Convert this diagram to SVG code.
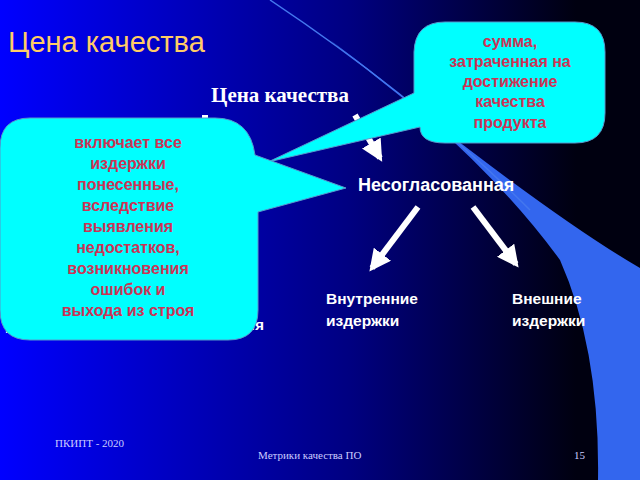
<svg xmlns="http://www.w3.org/2000/svg" width="640" height="480" viewBox="0 0 640 480">
<defs>
<linearGradient id="bg" x1="0" y1="0" x2="1" y2="0"><stop offset="0" stop-color="#0000ff"/><stop offset="0.55" stop-color="#000080"/><stop offset="0.9" stop-color="#000010"/></linearGradient>
<marker id="ah" viewBox="0 0 10 10" refX="8" refY="5" markerWidth="3.6" markerHeight="3.6" orient="auto"><path d="M0,0 L10,5 L0,10 Z" fill="#fff"/></marker>
<style>
.w{fill:#fff;font-family:"Liberation Sans",Arial,sans-serif;font-weight:bold}
.r{fill:#cc3355;font-family:"Liberation Sans",Arial,sans-serif;font-weight:bold;font-size:16px;text-anchor:middle}
.c{fill:#00ffff;stroke:#5599cc;stroke-width:1}
.ar{stroke:#fff;stroke-width:6;fill:none;marker-end:url(#ah)}
.f{fill:#ccccff;font-family:"Liberation Serif",serif;font-size:11px}
</style>
</defs>
<rect width="640" height="480" fill="url(#bg)"/>
<path d="M330 40 Q480 150 560 260 Q600 350 598 480 L640 480 L640 268 Q540 210 330 40 Z" fill="#3366ee"/>
<path d="M270 0 Q420 100 530 210" stroke="#4477ee" stroke-width="1.5" fill="none"/>
<text x="8" y="52" font-family="Liberation Sans,Arial,sans-serif" font-size="29" fill="#ffcc66">Цена качества</text>
<g id="connectors">
<line class="ar" x1="355" y1="115" x2="380" y2="158"/>
<line class="ar" x1="205" y1="115" x2="205" y2="160"/>
<line class="ar" x1="418" y1="207" x2="372" y2="268"/>
<line class="ar" x1="473" y1="207" x2="516" y2="264"/>
</g>
<g id="n-root"><text x="280" y="102" text-anchor="middle" font-family="Liberation Serif,serif" font-weight="bold" font-size="21" fill="#fff">Цена качества</text></g>
<g id="n-nesogl"><text class="w" x="358" y="191" font-size="18">Несогласованная</text></g>
<g id="n-vnutr"><text class="w" x="326" y="304" font-size="15.5">Внутренние</text><text class="w" x="326" y="326" font-size="15.5">издержки</text></g>
<g id="n-vnesh"><text class="w" x="512" y="304" font-size="15.5">Внешние</text><text class="w" x="512" y="326" font-size="15.5">издержки</text></g>
<g id="n-hidden"><text class="w" x="5" y="333" font-size="15.5">П</text><text class="w" x="236" y="330" font-size="15.5">оля</text></g>
<g id="callout-right">
<path class="c" d="M445 22 H575 Q605 22 605 52 V113 Q605 143 575 143 H445 Q420 143 420 127 L268 162 L414 93 V52 Q415 22 445 22 Z"/>
<text class="r" x="510" y="47">сумма,</text><text class="r" x="510" y="67">затраченная на</text><text class="r" x="510" y="87">достижение</text><text class="r" x="510" y="107">качества</text><text class="r" x="510" y="128">продукта</text>
</g>
<g id="callout-left">
<path class="c" d="M30 118 H215 Q250 118 255 155 L346 188 L258 212 V310 Q258 340 228 340 H30 Q0 340 0 310 V148 Q0 118 30 118 Z"/>
<text class="r" x="128" y="148">включает все</text><text class="r" x="128" y="169">издержки</text><text class="r" x="128" y="190">понесенные,</text><text class="r" x="128" y="211">вследствие</text><text class="r" x="128" y="232">выявления</text><text class="r" x="128" y="253">недостатков,</text><text class="r" x="128" y="274">возникновения</text><text class="r" x="128" y="295">ошибок и</text><text class="r" x="128" y="316">выхода из строя</text>
</g>
<text class="f" x="55" y="447">ПКИПТ - 2020</text>
<text class="f" x="258" y="459">Метрики  качества ПО</text>
<text class="f" x="574" y="459">15</text>
</svg>
